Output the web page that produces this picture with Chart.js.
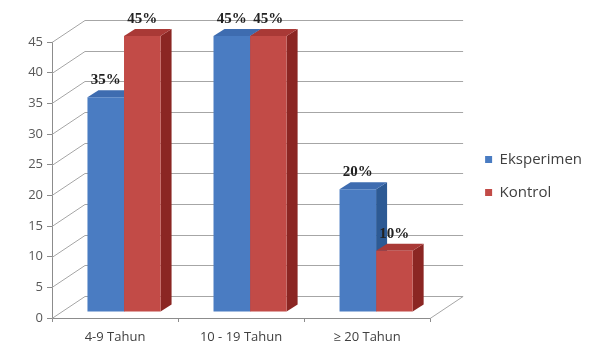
<!DOCTYPE html>
<html>
<head>
<meta charset="utf-8">
<script src="https://cdn.jsdelivr.net/npm/chart.js@4.4.0/dist/chart.umd.min.js"></script>
<style>
    html, body { margin: 0; padding: 0; background: #fff; }
</style>
</head>
<body>
<canvas id="myChart" width="595" height="347"></canvas>
<script>
        const categories = ['4-9 Tahun', '10 - 19 Tahun', '\u2265 20 Tahun'];
        const seriesNames = ['Eksperimen', 'Kontrol'];
        const dataEksperimen = [35, 45, 20];
        const dataKontrol = [45, 45, 10];
        const yTicks = [0, 5, 10, 15, 20, 25, 30, 35, 40, 45];

        // fake 3D look, offsets in px
        const wallDepth = { dx: 33, dy: -22 };
        const barShift = { dx: 9, dy: -6 };
        const barDepth = { dx: 11, dy: -7 };

        const faceColors = [
            { side: '#2d5a94', top: '#3e6cb0' },
            { side: '#8b2623', top: '#a93936' }
        ];

        // legend must start at x=467 -> work out right padding from the text width
        const legendFontSize = 15;
        const legendPad = 18;
        const legendBox = 7;
        const mctx = document.createElement('canvas').getContext('2d');
        mctx.font = legendFontSize + 'px "Open Sans"';
        const textW = Math.max.apply(null, seriesNames.map(function (s) { return mctx.measureText(s).width; }));
        const legendW = legendPad + legendBox + legendFontSize / 2 + textW + 10;
        const rightPad = Math.max(0, Math.round(595 - 467 - legendW));

        const fake3d = {
            id: 'fake3d',
            afterLayout(chart) {
                chart.legend.top -= 4;
                chart.legend.bottom -= 4;
            },
            beforeDatasetsDraw(chart) {
                const ctx = chart.ctx;
                const area = chart.chartArea;
                const y = chart.scales.y;
                ctx.save();
                ctx.strokeStyle = '#a6a6a6';
                ctx.lineWidth = 1;
                yTicks.forEach(function (v) {
                    const py = Math.round(y.getPixelForValue(v)) + 0.5;
                    ctx.beginPath();
                    ctx.moveTo(area.left, py);
                    ctx.lineTo(area.left + wallDepth.dx, py + wallDepth.dy);
                    ctx.lineTo(area.right + wallDepth.dx, py + wallDepth.dy);
                    ctx.stroke();
                });
                // floor right edge
                ctx.beginPath();
                ctx.moveTo(area.right, area.bottom + 0.5);
                ctx.lineTo(area.right + wallDepth.dx, area.bottom + 0.5 + wallDepth.dy);
                ctx.stroke();
                ctx.restore();

                // bars sit a bit deeper than the front axis
                ctx.save();
                ctx.translate(barShift.dx, barShift.dy);
                chart.data.datasets.forEach(function (ds, i) {
                    chart.getDatasetMeta(i).data.forEach(function (bar) {
                        const l = bar.x - bar.width / 2;
                        const r = bar.x + bar.width / 2;
                        const t = bar.y;
                        const b = bar.base;
                        ctx.fillStyle = faceColors[i].side;
                        ctx.beginPath();
                        ctx.moveTo(r, t);
                        ctx.lineTo(r + barDepth.dx, t + barDepth.dy);
                        ctx.lineTo(r + barDepth.dx, b + barDepth.dy);
                        ctx.lineTo(r, b);
                        ctx.closePath();
                        ctx.fill();
                        ctx.fillStyle = faceColors[i].top;
                        ctx.beginPath();
                        ctx.moveTo(l, t);
                        ctx.lineTo(l + barDepth.dx, t + barDepth.dy);
                        ctx.lineTo(r + barDepth.dx, t + barDepth.dy);
                        ctx.lineTo(r, t);
                        ctx.closePath();
                        ctx.fill();
                    });
                });
            },
            afterDatasetsDraw(chart) {
                const ctx = chart.ctx;
                ctx.font = 'bold 15px "Liberation Serif"';
                ctx.fillStyle = '#222';
                ctx.textAlign = 'center';
                ctx.textBaseline = 'middle';
                chart.data.datasets.forEach(function (ds, i) {
                    chart.getDatasetMeta(i).data.forEach(function (bar, j) {
                        ctx.fillText(ds.data[j] + '%', bar.x, bar.y - 17);
                    });
                });
                ctx.restore();
            }
        };

        const ctx = document.getElementById('myChart').getContext('2d');
        const myChart = new Chart(ctx, {
            type: 'bar',
            data: {
                labels: categories,
                datasets: [
                    {
                        label: seriesNames[0],
                        data: dataEksperimen,
                        backgroundColor: '#4a7cc2',
                        borderWidth: 0,
                        categoryPercentage: 0.58,
                        barPercentage: 1.0
                    },
                    {
                        label: seriesNames[1],
                        data: dataKontrol,
                        backgroundColor: '#c24b47',
                        borderWidth: 0,
                        categoryPercentage: 0.58,
                        barPercentage: 1.0
                    }
                ]
            },
            options: {
                responsive: false,
                animation: false,
                layout: { padding: { top: 42, right: rightPad, left: 0, bottom: 0 } },
                plugins: {
                    legend: {
                        position: 'right',
                        fullSize: false,
                        maxWidth: 200,
                        labels: {
                            boxWidth: legendBox,
                            boxHeight: legendBox,
                            padding: legendPad,
                            color: '#404040',
                            font: { family: 'Open Sans', size: legendFontSize }
                        }
                    },
                    tooltip: { enabled: false }
                },
                scales: {
                    x: {
                        grid: { display: true, drawOnChartArea: false, tickLength: 4, color: '#8c8c8c' },
                        border: { display: true, color: '#8c8c8c' },
                        ticks: { color: '#404040', font: { family: 'Open Sans', size: 13 }, padding: 7 },
                        afterFit: function (s) { s.height = 29; }
                    },
                    y: {
                        min: 0,
                        max: 45,
                        ticks: { stepSize: 5, padding: 4, color: '#595959', font: { family: 'Open Sans', size: 13 } },
                        grid: { drawOnChartArea: false, tickLength: 5, color: '#8c8c8c' },
                        border: { color: '#8c8c8c' },
                        afterFit: function (s) { s.width = 52; }
                    },
                    y2: {
                        type: 'linear',
                        position: 'right',
                        display: true,
                        grid: { display: false },
                        ticks: { display: false },
                        border: { display: false },
                        afterFit: function (s) { s.width = 37; }
                    }
                }
            },
            plugins: [fake3d]
        });
</script>
</body>
</html>
